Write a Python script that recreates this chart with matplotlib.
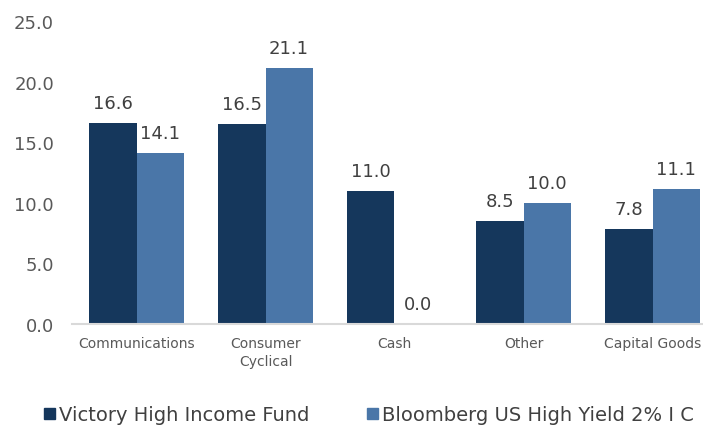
import matplotlib.pyplot as plt
import numpy as np
from matplotlib.patches import Patch

plt.rcParams['font.family'] = ['DejaVu Sans']

categories = ['Communications', 'Consumer\nCyclical', 'Cash', 'Other', 'Capital Goods']
fund = [16.6, 16.5, 11.0, 8.5, 7.8]
bench = [14.1, 21.1, 0.0, 10.0, 11.1]
series_names = ['Victory High Income Fund', 'Bloomberg US High Yield 2% I C']

dark = '#15375C'
light = '#4A76A8'
txt = '#404040'

fig = plt.figure(figsize=(7.03, 4.27), dpi=100)
ax = fig.add_axes([72/703, 1-325/427, 645/703, (325-22)/427])

x = np.arange(len(categories))
w = 0.365
b1 = ax.bar(x - w/2, fund, w, color=dark)
b2 = ax.bar(x + w/2, bench, w, color=light)

for bars, vals in [(b1, fund), (b2, bench)]:
    for r, v in zip(bars, vals):
        ax.annotate(f'{v:.1f}', (r.get_x() + r.get_width()/2, v),
                    xytext=(0, 8), textcoords='offset points',
                    ha='center', va='bottom', fontsize=13, color=txt)

ax.set_xlim(-0.5, 4.5)
ax.set_ylim(0, 25)
ax.set_yticks(np.arange(0, 26, 5))
ax.set_yticklabels([f'{t:.1f}' for t in np.arange(0, 26, 5)])
ax.set_xticks(x)
ax.set_xticklabels(categories, linespacing=1.3)
ax.tick_params(axis='y', length=0, pad=13, labelsize=13, labelcolor='#595959')
ax.tick_params(axis='x', length=0, pad=9, labelsize=10, labelcolor='#595959')
for s in ['top', 'right', 'left']:
    ax.spines[s].set_visible(False)
ax.spines['bottom'].set_color('#D9D9D9')
ax.spines['bottom'].set_linewidth(1.5)

handles = [Patch(color=dark), Patch(color=light)]
fig.legend(handles, series_names, loc='center left', bbox_to_anchor=(44/703, 1-416/427),
           ncol=2, frameon=False, fontsize=14, labelcolor=txt,
           handlelength=0.55, handleheight=0.55, handletextpad=0.2, columnspacing=3.0,
           borderpad=0, borderaxespad=0)

fig.savefig('out.png', dpi=100)
